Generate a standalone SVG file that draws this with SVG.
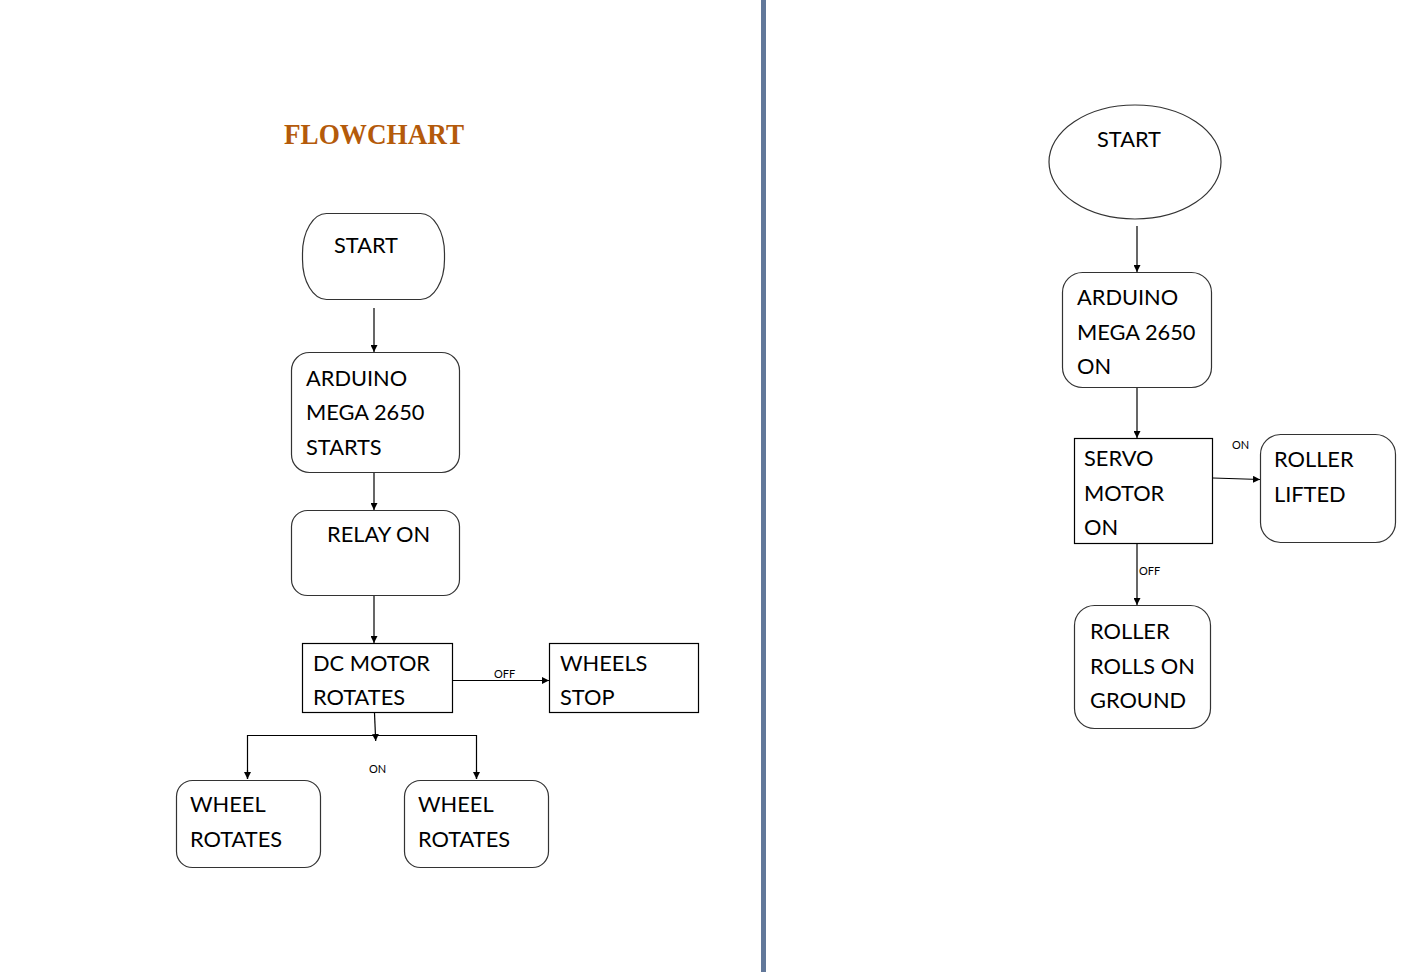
<svg xmlns="http://www.w3.org/2000/svg" width="1425" height="972" viewBox="0 0 1425 972">
<style>
.n{fill:#fff;stroke:#333;stroke-width:1.2}
.sq{fill:#fff;stroke:#000;stroke-width:1.2}
.t{font-family:Lato,"Open Sans",sans-serif;font-size:21.8px;fill:#000}
.s{font-family:Lato,"Open Sans",sans-serif;font-size:11px;fill:#000}
.c{fill:none;stroke:#000;stroke-width:1.2}
</style>
<defs>
<marker id="ah" viewBox="0 0 10 10" refX="10" refY="5" markerWidth="7" markerHeight="7" markerUnits="userSpaceOnUse" orient="auto">
<path d="M0,0 L10,5 L0,10 z" fill="#000"/>
</marker>
</defs>
<rect width="1425" height="972" fill="#fff"/>
<rect x="761" y="0" width="5" height="972" fill="#62789a"/>
<text x="284" y="144" font-family="'Liberation Serif',serif" font-weight="bold" font-size="30" fill="#b45a0a" textLength="180" lengthAdjust="spacingAndGlyphs">FLOWCHART</text>

<g id="connectors">
<line class="c" x1="374" y1="308" x2="374" y2="352" marker-end="url(#ah)"/>
<line class="c" x1="374" y1="473" x2="374" y2="510" marker-end="url(#ah)"/>
<line class="c" x1="374" y1="595" x2="374" y2="643" marker-end="url(#ah)"/>
<line class="c" x1="453" y1="680.5" x2="549" y2="680.5" marker-end="url(#ah)"/>
<line class="c" x1="374.5" y1="713" x2="375.7" y2="741" marker-end="url(#ah)"/>
<polyline class="c" points="247.5,779 247.5,735.5 476.5,735.5 476.5,779"/>
<line class="c" x1="247.5" y1="770" x2="247.5" y2="779" marker-end="url(#ah)"/>
<line class="c" x1="476.5" y1="770" x2="476.5" y2="779" marker-end="url(#ah)"/>
<line class="c" x1="1137" y1="226" x2="1137" y2="272" marker-end="url(#ah)"/>
<line class="c" x1="1137" y1="388" x2="1137" y2="438" marker-end="url(#ah)"/>
<line class="c" x1="1213" y1="478" x2="1260" y2="479.5" marker-end="url(#ah)"/>
<line class="c" x1="1137" y1="543" x2="1137" y2="605" marker-end="url(#ah)"/>
<text class="s" x="494" y="678">OFF</text>
<text class="s" x="369" y="773">ON</text>
<text class="s" x="1232" y="449">ON</text>
<text class="s" x="1139" y="575">OFF</text>
</g>

<g id="start1">
<rect class="n" x="302.5" y="213.5" width="142" height="86" rx="24" ry="40"/>
<text class="t" x="334" y="253">START</text>
</g>
<g id="arduino1">
<rect class="n" x="291.5" y="352.5" width="168" height="120" rx="18"/>
<text class="t" x="306" y="386">ARDUINO</text>
<text class="t" x="306" y="420">MEGA 2650</text>
<text class="t" x="306" y="455">STARTS</text>
</g>
<g id="relay">
<rect class="n" x="291.5" y="510.5" width="168" height="85" rx="16"/>
<text class="t" x="327" y="542">RELAY ON</text>
</g>
<g id="dcmotor">
<rect class="sq" x="302.5" y="643.5" width="150" height="69"/>
<text class="t" x="313" y="671">DC MOTOR</text>
<text class="t" x="313" y="705">ROTATES</text>
</g>
<g id="wheelsstop">
<rect class="sq" x="549.5" y="643.5" width="149" height="69"/>
<text class="t" x="560" y="671">WHEELS</text>
<text class="t" x="560" y="705">STOP</text>
</g>
<g id="wheel1">
<rect class="n" x="176.5" y="780.5" width="144" height="87" rx="16"/>
<text class="t" x="190" y="812">WHEEL</text>
<text class="t" x="190" y="847">ROTATES</text>
</g>
<g id="wheel2">
<rect class="n" x="404.5" y="780.5" width="144" height="87" rx="16"/>
<text class="t" x="418" y="812">WHEEL</text>
<text class="t" x="418" y="847">ROTATES</text>
</g>

<g id="start2">
<ellipse class="n" cx="1135" cy="162" rx="86" ry="57"/>
<text class="t" x="1097" y="147">START</text>
</g>
<g id="arduino2">
<rect class="n" x="1062.5" y="272.5" width="149" height="115" rx="20"/>
<text class="t" x="1077" y="305">ARDUINO</text>
<text class="t" x="1077" y="340">MEGA 2650</text>
<text class="t" x="1077" y="374">ON</text>
</g>
<g id="servo">
<rect class="sq" x="1074.5" y="438.5" width="138" height="105"/>
<text class="t" x="1084" y="466">SERVO</text>
<text class="t" x="1084" y="501">MOTOR</text>
<text class="t" x="1084" y="535">ON</text>
</g>
<g id="lifted">
<rect class="n" x="1260.5" y="434.5" width="135" height="108" rx="20"/>
<text class="t" x="1274" y="467">ROLLER</text>
<text class="t" x="1274" y="502">LIFTED</text>
</g>
<g id="ground">
<rect class="n" x="1074.5" y="605.5" width="136" height="123" rx="20"/>
<text class="t" x="1090" y="639">ROLLER</text>
<text class="t" x="1090" y="674">ROLLS ON</text>
<text class="t" x="1090" y="708">GROUND</text>
</g>
</svg>
